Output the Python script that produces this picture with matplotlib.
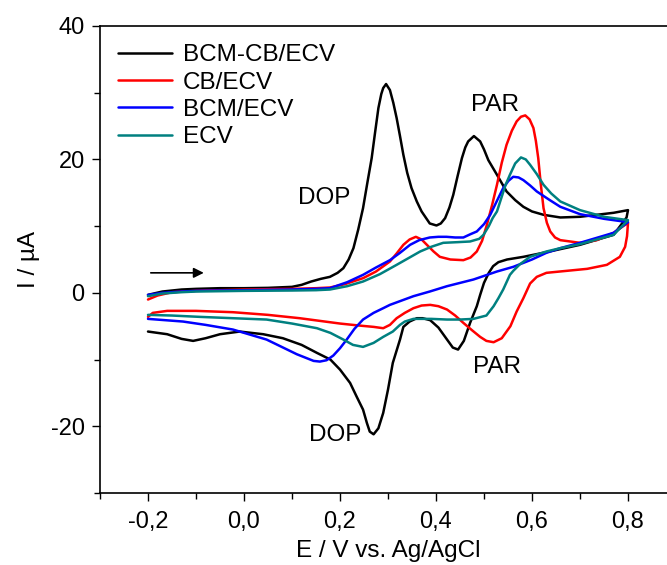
import matplotlib
matplotlib.use("Agg")
import matplotlib.pyplot as plt
from matplotlib.ticker import MultipleLocator

plt.rcParams['font.family'] = ['Liberation Sans', 'DejaVu Sans']

# ---- data (E in V, I in uA) ----
labels = ["BCM-CB/ECV", "CB/ECV", "BCM/ECV", "ECV"]
colors = ["#000000", "#ff0000", "#0000ff", "#008080"]

bcmcb_fwd_E = [-0.2, -0.17, -0.13, -0.1, -0.05, 0.0, 0.05, 0.1, 0.12, 0.14,
               0.16, 0.179, 0.195, 0.207, 0.218, 0.228, 0.238, 0.248, 0.257, 0.266,
               0.273, 0.28, 0.286, 0.29, 0.296, 0.304, 0.311, 0.318, 0.325, 0.332,
               0.34, 0.349, 0.36, 0.37, 0.387, 0.401, 0.41, 0.419, 0.428, 0.436,
               0.445, 0.454, 0.461, 0.467, 0.479, 0.492, 0.50, 0.509, 0.527, 0.547,
               0.565, 0.582, 0.6, 0.624, 0.659, 0.7, 0.735, 0.77, 0.8]
bcmcb_fwd_I = [-0.3, 0.2, 0.5, 0.6, 0.7, 0.7, 0.75, 0.9, 1.2, 1.7,
               2.1, 2.4, 3.0, 3.7, 5.0, 6.7, 9.5, 12.7, 16.5, 20.2,
               24.0, 27.7, 29.8, 30.7, 31.3, 30.4, 28.5, 26.2, 23.5, 20.7,
               18.0, 15.7, 13.7, 12.2, 10.4, 10.1, 10.4, 11.2, 12.8, 14.7,
               17.5, 20.2, 21.8, 22.7, 23.5, 22.7, 21.5, 19.9, 17.7, 15.2,
               13.9, 12.9, 12.2, 11.7, 11.3, 11.4, 11.7, 12.0, 12.4]
bcmcb_bwd_E = [0.8, 0.797, 0.77, 0.7, 0.63, 0.582, 0.548, 0.53, 0.519, 0.51,
               0.50, 0.492, 0.485, 0.471, 0.458, 0.446, 0.435, 0.423, 0.405, 0.388,
               0.372, 0.36, 0.345, 0.332, 0.325, 0.31, 0.30, 0.29, 0.28, 0.27,
               0.262, 0.256, 0.248, 0.235, 0.221, 0.2, 0.18, 0.152, 0.12, 0.081,
               0.04, -0.009, -0.05, -0.08, -0.106, -0.13, -0.16, -0.2]
bcmcb_bwd_I = [12.4, 11.3, 8.7, 7.2, 6.1, 5.4, 5.0, 4.6, 4.0, 3.0,
               1.5, -0.3, -2.0, -4.5, -7.2, -8.5, -8.2, -7.0, -5.2, -4.1,
               -3.8, -3.8, -4.3, -5.1, -7.0, -10.5, -14.5, -18.0, -20.3, -21.2,
               -20.8, -19.5, -17.5, -15.6, -13.5, -11.5, -10.0, -9.0, -7.8, -6.8,
               -6.2, -5.8, -6.2, -6.8, -7.2, -6.9, -6.2, -5.8]

cb_fwd_E = [-0.2, -0.18, -0.15, -0.1, 0.0, 0.1, 0.15, 0.179, 0.21, 0.248,
            0.275, 0.304, 0.318, 0.332, 0.345, 0.358, 0.37, 0.381, 0.395, 0.408,
            0.43, 0.457, 0.472, 0.485, 0.496, 0.506, 0.517, 0.527, 0.537, 0.547,
            0.558, 0.568, 0.577, 0.586, 0.595, 0.603, 0.608, 0.613, 0.618, 0.624,
            0.631, 0.638, 0.648, 0.659, 0.7, 0.735, 0.77, 0.8]
cb_fwd_I = [-1.0, -0.4, 0.1, 0.3, 0.5, 0.6, 0.7, 0.8, 1.3, 2.2,
            3.2, 4.7, 5.9, 7.2, 8.0, 8.4, 8.0, 7.2, 6.2, 5.4,
            5.0, 4.9, 5.3, 6.2, 7.8, 10.2, 13.2, 16.2, 19.5, 22.2,
            24.3, 25.7, 26.4, 26.6, 26.0, 24.7, 22.8, 20.2, 16.5, 12.7,
            10.5, 9.2, 8.3, 7.9, 7.5, 7.9, 9.0, 10.5]
cb_bwd_E = [0.8, 0.798, 0.794, 0.783, 0.756, 0.715, 0.658, 0.63, 0.61, 0.596,
            0.582, 0.568, 0.555, 0.537, 0.52, 0.505, 0.492, 0.475, 0.457, 0.44,
            0.423, 0.405, 0.388, 0.37, 0.353, 0.335, 0.318, 0.304, 0.29, 0.27,
            0.24, 0.2, 0.116, 0.05, -0.023, -0.1, -0.16, -0.19, -0.2]
cb_bwd_I = [10.5, 8.5, 6.9, 5.4, 4.2, 3.6, 3.2, 3.0, 2.4, 1.4,
            -0.8, -2.8, -5.0, -6.8, -7.4, -7.2, -6.6, -5.6, -4.5, -3.4,
            -2.5, -2.0, -1.8, -1.9, -2.3, -3.0, -3.8, -4.8, -5.3, -5.1,
            -4.9, -4.6, -3.8, -3.3, -2.9, -2.7, -2.7, -3.0, -3.6]

bcm_fwd_E = [-0.2, -0.17, -0.13, -0.1, 0.0, 0.1, 0.15, 0.179, 0.215, 0.248,
             0.275, 0.304, 0.325, 0.346, 0.365, 0.387, 0.405, 0.422, 0.44, 0.457,
             0.472, 0.485, 0.5, 0.513, 0.527, 0.54, 0.551, 0.561, 0.572, 0.582,
             0.596, 0.61, 0.635, 0.659, 0.7, 0.75, 0.8]
bcm_fwd_I = [-0.3, 0.0, 0.2, 0.3, 0.4, 0.5, 0.6, 0.7, 1.6, 2.7,
             3.8, 4.9, 6.0, 7.2, 7.9, 8.3, 8.4, 8.4, 8.3, 8.3,
             8.8, 9.2, 10.3, 11.7, 13.8, 15.7, 16.8, 17.4, 17.3, 16.9,
             16.1, 15.2, 14.0, 12.9, 11.8, 11.1, 10.6]
bcm_bwd_E = [0.8, 0.77, 0.7, 0.659, 0.63, 0.6, 0.561, 0.527, 0.478, 0.423,
             0.387, 0.353, 0.304, 0.29, 0.27, 0.248, 0.23, 0.214, 0.2, 0.186,
             0.172, 0.158, 0.145, 0.131, 0.11, 0.09, 0.047, -0.023, -0.08, -0.127,
             -0.2]
bcm_bwd_I = [10.6, 9.0, 7.5, 6.7, 6.0, 5.0, 3.9, 3.2, 2.0, 1.0,
             0.2, -0.5, -1.8, -2.3, -3.0, -4.0, -5.4, -7.0, -8.3, -9.4,
             -10.1, -10.3, -10.2, -9.8, -9.2, -8.5, -7.0, -5.5, -4.8, -4.3,
             -3.9]

ecv_fwd_E = [-0.2, -0.17, -0.13, -0.1, 0.0, 0.1, 0.15, 0.179, 0.215, 0.248,
             0.283, 0.318, 0.345, 0.367, 0.39, 0.415, 0.445, 0.471, 0.49, 0.499,
             0.51, 0.518, 0.527, 0.536, 0.545, 0.554, 0.565, 0.577, 0.587, 0.596,
             0.61, 0.624, 0.64, 0.659, 0.7, 0.75, 0.8]
ecv_fwd_I = [-0.5, -0.1, 0.1, 0.2, 0.3, 0.35, 0.4, 0.5, 1.0, 1.7,
             2.8, 4.2, 5.3, 6.2, 6.9, 7.5, 7.6, 7.7, 8.1, 8.7,
             10.0, 11.2, 12.2, 14.2, 16.2, 17.7, 19.4, 20.3, 20.0, 19.2,
             17.8, 16.2, 14.9, 13.7, 12.4, 11.4, 10.9]
ecv_bwd_E = [0.8, 0.77, 0.7, 0.659, 0.63, 0.596, 0.575, 0.561, 0.554, 0.54,
             0.53, 0.52, 0.505, 0.478, 0.45, 0.423, 0.39, 0.353, 0.335, 0.325,
             0.31, 0.29, 0.27, 0.248, 0.227, 0.207, 0.18, 0.152, 0.1, 0.047,
             -0.023, -0.092, -0.15, -0.2]
ecv_bwd_I = [10.9, 8.7, 7.3, 6.7, 6.2, 5.4, 4.3, 3.3, 2.7, 0.5,
             -0.8, -2.0, -3.4, -3.9, -4.0, -4.0, -3.9, -3.9, -4.3, -4.8,
             -5.8, -6.6, -7.5, -8.1, -7.8, -7.0, -6.0, -5.3, -4.6, -4.0,
             -3.8, -3.6, -3.4, -3.3]

xtick_vals = [-0.2, 0.0, 0.2, 0.4, 0.6, 0.8]
xtick_labels = ["-0,2", "0,0", "0,2", "0,4", "0,6", "0,8"]
ytick_vals = [-20, 0, 20, 40]
ytick_labels = ["-20", "0", "20", "40"]

series = [
    (bcmcb_fwd_E + bcmcb_bwd_E, bcmcb_fwd_I + bcmcb_bwd_I),
    (cb_fwd_E + cb_bwd_E, cb_fwd_I + cb_bwd_I),
    (bcm_fwd_E + bcm_bwd_E, bcm_fwd_I + bcm_bwd_I),
    (ecv_fwd_E + ecv_bwd_E, ecv_fwd_I + ecv_bwd_I),
]

fig = plt.figure(figsize=(6.67, 5.65), dpi=100)
ax = fig.add_axes([100 / 667, 72 / 565, 576 / 667, 467 / 565])

for (E, I), lab, c in zip(series, labels, colors):
    ax.plot(E, I, color=c, lw=1.8, label=lab, solid_joinstyle='round', solid_capstyle='round')

ax.set_xlim(-0.3, 0.9)
ax.set_ylim(-30, 40)
ax.set_xticks(xtick_vals)
ax.set_xticklabels(xtick_labels)
ax.set_yticks(ytick_vals)
ax.set_yticklabels(ytick_labels)
ax.xaxis.set_minor_locator(MultipleLocator(0.1))
ax.yaxis.set_minor_locator(MultipleLocator(10))
ax.tick_params(which='both', direction='out', labelsize=17, top=False, right=False)
ax.tick_params(which='major', length=6, width=1.0)
ax.tick_params(axis='x', which='major', pad=7)
ax.tick_params(axis='y', which='major', pad=5)
ax.tick_params(which='minor', length=4, width=1.0)
for s in ax.spines.values():
    s.set_linewidth(1.2)

ax.set_xlabel("E / V vs. Ag/AgCl", fontsize=17.5, labelpad=5)
ax.set_ylabel("I / µA", fontsize=17.5, labelpad=8)

leg = ax.legend(loc='upper left', bbox_to_anchor=(0.0, 1.0), frameon=False, fontsize=17.5,
                handlelength=2.2, handletextpad=0.45, labelspacing=0.22, borderaxespad=0.35)

ax.text(0.168, 14.2, "DOP", fontsize=17.5, ha='center', va='center')
ax.text(0.523, 28.2, "PAR", fontsize=17.5, ha='center', va='center')
ax.text(0.527, -11.1, "PAR", fontsize=17.5, ha='center', va='center')
ax.text(0.19, -21.3, "DOP", fontsize=17.5, ha='center', va='center')
ax.annotate("", xy=(-0.078, 3.0), xytext=(-0.2, 3.0),
            arrowprops=dict(arrowstyle='-|>', color='black', lw=1.2, mutation_scale=15))

fig.savefig("out.png", dpi=100)
